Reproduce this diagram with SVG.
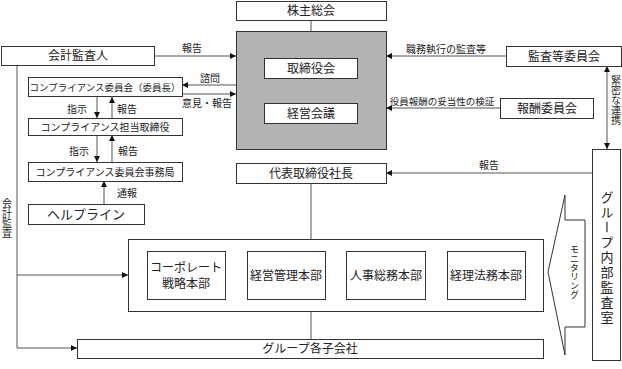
<svg xmlns="http://www.w3.org/2000/svg" width="622" height="369" viewBox="0 0 622 369">
<style>
text{font-family:"Liberation Serif","Noto Sans CJK JP",serif;fill:#222;text-anchor:middle}
.box{fill:#fff;stroke:#333;stroke-width:1}
.ln{fill:none;stroke:#555;stroke-width:1}
.t12{font-size:12px}
.t10{font-size:10px}
.t9{font-size:9.5px}
.vt{writing-mode:vertical-rl}
</style>
<defs>
<marker id="a" viewBox="0 0 6 6" refX="6" refY="3" markerWidth="6" markerHeight="6" markerUnits="userSpaceOnUse" orient="auto-start-reverse">
<path d="M0,0 L6,3 L0,6 z" fill="#111"/>
</marker>
</defs>

<g id="connectors">
<line class="ln" x1="311" y1="20" x2="311" y2="31"/>
<line class="ln" x1="154" y1="56" x2="236" y2="56" marker-end="url(#a)"/>
<line class="ln" x1="236" y1="85" x2="182" y2="85" marker-end="url(#a)"/>
<line class="ln" x1="182" y1="94" x2="236" y2="94" marker-end="url(#a)"/>
<line class="ln" x1="97" y1="97" x2="97" y2="118" marker-end="url(#a)"/>
<line class="ln" x1="112" y1="118" x2="112" y2="97" marker-end="url(#a)"/>
<line class="ln" x1="97" y1="135" x2="97" y2="162" marker-end="url(#a)"/>
<line class="ln" x1="112" y1="162" x2="112" y2="135" marker-end="url(#a)"/>
<line class="ln" x1="104" y1="204" x2="104" y2="181" marker-end="url(#a)"/>
<line class="ln" x1="506" y1="56" x2="386" y2="56" marker-end="url(#a)"/>
<line class="ln" x1="500" y1="108" x2="386" y2="108" marker-end="url(#a)"/>
<line class="ln" x1="607" y1="66" x2="607" y2="149" marker-start="url(#a)" marker-end="url(#a)"/>
<line class="ln" x1="592" y1="173" x2="386" y2="173" marker-end="url(#a)"/>
<line class="ln" x1="311" y1="183" x2="311" y2="239"/>
<line class="ln" x1="311" y1="311" x2="311" y2="339"/>
<polyline class="ln" points="17,65 17,348 77,348" marker-end="url(#a)"/>
<line class="ln" x1="17" y1="275" x2="128" y2="275" marker-end="url(#a)"/>
<text class="t10" x="192" y="52">報告</text>
<text class="t10" x="210" y="82">諮問</text>
<text class="t10" x="207" y="107">意見・報告</text>
<text class="t10" x="77" y="113">指示</text>
<text class="t10" x="127" y="113">報告</text>
<text class="t10" x="79" y="155">指示</text>
<text class="t10" x="128" y="155">報告</text>
<text class="t10" x="127" y="197">通報</text>
<text class="t10" x="446" y="53">職務執行の監査等</text>
<text class="t9" x="442" y="105">役員報酬の妥当性の検証</text>
<text class="t10" x="489" y="169">報告</text>
<text class="t10 vt" x="615" y="100">緊密な連携</text>
<text class="t10 vt" x="6" y="218">会計監査</text>
</g>

<g id="shareholders">
<rect class="box" x="236.5" y="1.5" width="150" height="19"/>
<text class="t12" x="311" y="15">株主総会</text>
</g>

<g id="board-group">
<rect x="236.5" y="31.5" width="150" height="118" fill="#b3b3b3" stroke="#333"/>
</g>
<g id="board">
<rect class="box" x="264.5" y="58.5" width="93" height="20"/>
<text class="t12" x="311" y="73">取締役会</text>
</g>
<g id="mgmt-meeting">
<rect class="box" x="264.5" y="103.5" width="93" height="20"/>
<text class="t12" x="311" y="118">経営会議</text>
</g>

<g id="auditor">
<rect class="box" x="1.5" y="46.5" width="153" height="19"/>
<text class="t12" x="78" y="60">会計監査人</text>
</g>

<g id="compliance-committee">
<rect class="box" x="28.5" y="77.5" width="154" height="19"/>
<text class="t9" x="105" y="90.5">コンプライアンス委員会（委員長）</text>
</g>
<g id="compliance-director">
<rect class="box" x="28.5" y="118.5" width="154" height="17"/>
<text class="t10" x="105" y="130.5">コンプライアンス担当取締役</text>
</g>
<g id="compliance-office">
<rect class="box" x="28.5" y="162.5" width="154" height="19"/>
<text class="t10" x="105" y="175.5">コンプライアンス委員会事務局</text>
</g>
<g id="helpline">
<rect class="box" x="28.5" y="204.5" width="116" height="20"/>
<text style="font-size:13px" x="86" y="219">ヘルプライン</text>
</g>

<g id="audit-committee">
<rect class="box" x="506.5" y="46.5" width="115" height="20"/>
<text class="t12" x="564" y="61">監査等委員会</text>
</g>
<g id="compensation-committee">
<rect class="box" x="500.5" y="98.5" width="93" height="20"/>
<text class="t12" x="547" y="113">報酬委員会</text>
</g>

<g id="president">
<rect class="box" x="236.5" y="163.5" width="150" height="20"/>
<text class="t12" x="311" y="178">代表取締役社長</text>
</g>

<g id="divisions">
<rect class="box" x="128.5" y="239.5" width="415" height="72"/>
</g>
<g id="corporate-strategy">
<rect class="box" x="147.5" y="251.5" width="78" height="48"/>
<text class="t12" x="186" y="272">コーポレート</text>
<text class="t12" x="186" y="288">戦略本部</text>
</g>
<g id="management-admin">
<rect class="box" x="247.5" y="251.5" width="78" height="48"/>
<text class="t12" x="286" y="280">経営管理本部</text>
</g>
<g id="hr-general">
<rect class="box" x="346.5" y="251.5" width="79" height="48"/>
<text class="t12" x="386" y="280">人事総務本部</text>
</g>
<g id="accounting-legal">
<rect class="box" x="447.5" y="251.5" width="78" height="48"/>
<text class="t12" x="486" y="280">経理法務本部</text>
</g>

<g id="group-companies">
<rect class="box" x="77.5" y="339.5" width="466" height="19"/>
<text class="t12" x="310" y="353">グループ各子会社</text>
</g>

<g id="monitoring">
<polygon class="box" points="565,195 565,220 585,220 585,327 565,327 565,355 548,272"/>
<text class="vt" style="font-size:9px" x="574" y="272">モニタリング</text>
</g>

<g id="internal-audit">
<rect class="box" x="592.5" y="149.5" width="28" height="211"/>
<text class="vt" style="font-size:13px;letter-spacing:2px" x="606" y="258">グループ内部監査室</text>
</g>
</svg>
